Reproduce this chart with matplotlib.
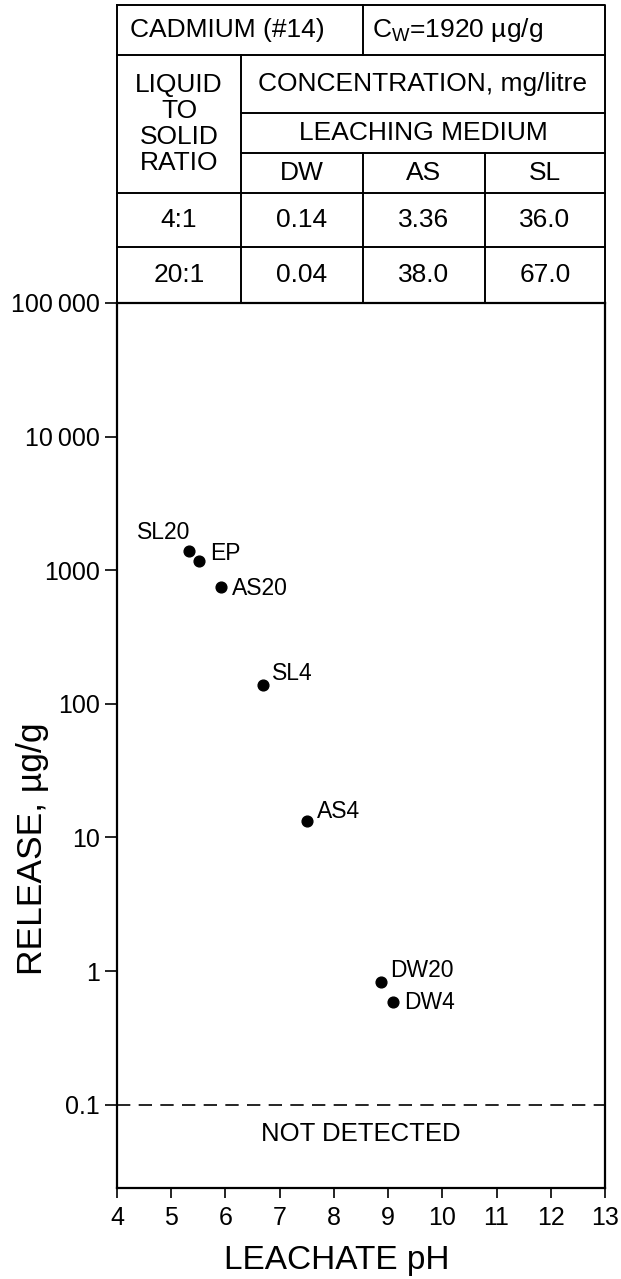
import matplotlib
matplotlib.use("Agg")
import matplotlib.pyplot as plt
from matplotlib.ticker import FixedLocator, NullLocator

plt.rcParams['font.family'] = ['Liberation Sans', 'DejaVu Sans']

# scatter data
ph = [5.32, 5.52, 5.92, 6.70, 7.50, 8.87, 9.09]
release = [1390, 1180, 754, 138, 13.3, 0.83, 0.59]
point_labels = ["SL20", "EP", "AS20", "SL4", "AS4", "DW20", "DW4"]

# table data
ratios = ["4:1", "20:1"]
media = ["DW", "AS", "SL"]
conc_4 = ["0.14", "3.36", "36.0"]
conc_20 = ["0.04", "38.0", "67.0"]

y_ticks = [1e5, 1e4, 1e3, 100, 10, 1, 0.1]
y_ticklabels = ["100\u2009000", "10\u2009000", "1000", "100", "10", "1", "0.1"]
x_ticks = [4, 5, 6, 7, 8, 9, 10, 11, 12, 13]

# label offsets in pixels (dx, dy, ha)
offsets = {
    "SL20": (-25, 19, "center"),
    "EP": (11, 7, "left"),
    "AS20": (11, -2, "left"),
    "SL4": (9, 12, "left"),
    "AS4": (10, 9, "left"),
    "DW20": (9, 11, "left"),
    "DW4": (11, -1, "left"),
}

W, H = 621, 1279
fig = plt.figure(figsize=(W / 100, H / 100), dpi=100)

# main plot axes, pixel box: x 117..605, y 303..1188
left, right, top, bottom = 117, 605, 303, 1188
ax = fig.add_axes([left / W, (H - bottom) / H, (right - left) / W, (bottom - top) / H])
ax.set_yscale('log')
ax.set_xlim(4, 13)
ax.set_ylim(10 ** -1.624, 1e5)

ax.scatter(ph, release, s=60, color='black', zorder=3)
for x, y, lab in zip(ph, release, point_labels):
    dx, dy, ha = offsets[lab]
    ax.annotate(lab, (x, y), xytext=(dx, dy), textcoords='offset pixels',
                ha=ha, va='center', fontsize=16.5)

ax.axhline(0.1, color='black', lw=1.2, dashes=(8, 5))
ax.text(8.5, 0.06, "NOT DETECTED", ha='center', va='center', fontsize=18.5)

ax.yaxis.set_major_locator(FixedLocator(y_ticks))
ax.yaxis.set_minor_locator(NullLocator())
ax.set_yticklabels(y_ticklabels)
ax.set_xticks(x_ticks)
ax.tick_params(axis='both', labelsize=18, width=1.2, direction='out')
ax.tick_params(axis='y', length=9, pad=3.5)
ax.tick_params(axis='x', length=7, pad=6)
for sp in ax.spines.values():
    sp.set_linewidth(1.6)

ax.set_xlabel("LEACHATE pH", fontsize=24)
ax.xaxis.set_label_coords(0.451, -0.064)
ax.set_ylabel("RELEASE, \u00b5g/g", fontsize=25.5)
ax.yaxis.set_label_coords(-0.14, 0.383)

# table above the plot, pixel box: y 5..303
t_top = 5
tax = fig.add_axes([left / W, (H - top) / H, (right - left) / W, (top - t_top) / H])
tax.set_xlim(0, 1)
tax.set_ylim(1, 0)
tax.axis('off')

cols = [0, 0.254, 0.504, 0.754, 1.0]
rows = [0, 0.168, 0.362, 0.497, 0.631, 0.812, 1.0]
kw = dict(color='black', lw=1.4, clip_on=False)

# cell borders
tax.plot([0, 1, 1, 0, 0], [0, 0, 1, 1, 0], **kw)
tax.plot([0, 1], [rows[1], rows[1]], **kw)
tax.plot([cols[2], cols[2]], [0, rows[1]], **kw)
tax.plot([cols[1], 1], [rows[2], rows[2]], **kw)
tax.plot([cols[1], 1], [rows[3], rows[3]], **kw)
tax.plot([0, 1], [rows[4], rows[4]], **kw)
tax.plot([0, 1], [rows[5], rows[5]], **kw)
tax.plot([cols[1], cols[1]], [rows[1], 1], **kw)
for c in cols[2:4]:
    tax.plot([c, c], [rows[3], 1], **kw)

fs = 19
tax.text(0.027, (rows[0] + rows[1]) / 2, "CADMIUM (#14)", ha='left', va='center', fontsize=fs)
tax.text(0.523, (rows[0] + rows[1]) / 2, "C$_{\\mathregular{W}}$=1920 \u00b5g/g",
         ha='left', va='center', fontsize=fs)
tax.text((cols[0] + cols[1]) / 2, (rows[1] + rows[4]) / 2, "LIQUID\nTO\nSOLID\nRATIO",
         ha='center', va='center', fontsize=fs, linespacing=1.11)
tax.text((cols[1] + 1) / 2, (rows[1] + rows[2]) / 2, "CONCENTRATION, mg/litre",
         ha='center', va='center', fontsize=fs)
tax.text((cols[1] + 1) / 2, (rows[2] + rows[3]) / 2, "LEACHING MEDIUM",
         ha='center', va='center', fontsize=fs)
for i, m in enumerate(media):
    tax.text((cols[i + 1] + cols[i + 2]) / 2, (rows[3] + rows[4]) / 2, m,
             ha='center', va='center', fontsize=fs)
for r, (ratio, vals) in enumerate(zip(ratios, [conc_4, conc_20])):
    yc = (rows[4 + r] + rows[5 + r]) / 2
    tax.text((cols[0] + cols[1]) / 2, yc, ratio, ha='center', va='center', fontsize=fs)
    for i, v in enumerate(vals):
        tax.text((cols[i + 1] + cols[i + 2]) / 2, yc, v, ha='center', va='center', fontsize=fs)

fig.savefig("out.png", dpi=100)
